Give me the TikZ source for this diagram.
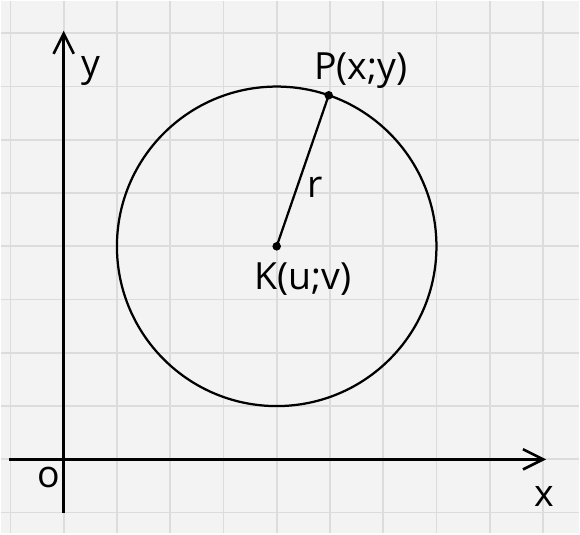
\documentclass[tikz,border=0pt]{standalone}
\usepackage{fontspec}
\setmainfont{Open Sans}
\usetikzlibrary{arrows.meta, calc}

\definecolor{paper}{HTML}{F3F3F3}
\definecolor{gridgray}{HTML}{DCDCDC}

\begin{document}
\begin{tikzpicture}[
    % Style definitions
    paperbg/.style={fill=paper},
    gridline/.style={draw=gridgray, line width=0.9pt},
    axis/.style={
        draw=black, line width=1.6pt,
        -{Straight Barb[length=3.8mm, width=3.8mm, line width=1.4pt]}
    },
    axisplain/.style={draw=black, line width=1.6pt},
    circ/.style={draw=black, line width=1.2pt},
    radius line/.style={draw=black, line width=1.2pt},
    dot/.style={circle, fill=black, inner sep=0pt, minimum size=1.6mm},
    lbl/.style={font=\fontsize{20}{24}\selectfont, inner sep=0pt},
]

% Frame positions
\def\xmin{-1.18}
\def\xmax{9.68}
\def\ymin{-1.39}
\def\ymax{8.61}

% === Squared paper ===
\fill[paperbg] (\xmin,\ymin) rectangle (\xmax,\ymax);
\draw[gridline] (\xmin,\ymin) grid (\xmax,\ymax);
\useasboundingbox (\xmin,\ymin) rectangle (\xmax,\ymax);

% === Axes ===
\coordinate (O) at (0,0);
\coordinate (xstart) at (-1.03,0);
\coordinate (xend) at (9.06,0);
\coordinate (ystart) at (0,-1.0);
\coordinate (yend) at (0,8.05);
\draw[axis] (xstart) -- (xend);
\draw[axis] (ystart) -- (yend);

% === Circle with centre K and point P ===
\coordinate (K) at (4,4);
\coordinate (P) at ($(K)+(71:3)$);
\draw[circ] (K) circle (3);
\draw[radius line] (K) -- (P);
\node[dot] (Kdot) at (K) {};
\node[dot] (Pdot) at (P) {};

% === Labels ===
\node[lbl] (ylabel) at (0.51,7.30) {y};
\node[lbl] (xlabel) at (9.03,-0.69) {x};
\node[lbl] (olabel) at (-0.28,-0.34) {o};
\node[lbl] (Plabel) at (5.58,7.30) {P(x;y)};
\node[lbl] (Klabel) at (4.49,3.39) {K(u;v)};
\node[lbl] (rlabel) at (4.72,5.11) {r};

\end{tikzpicture}
\end{document}
